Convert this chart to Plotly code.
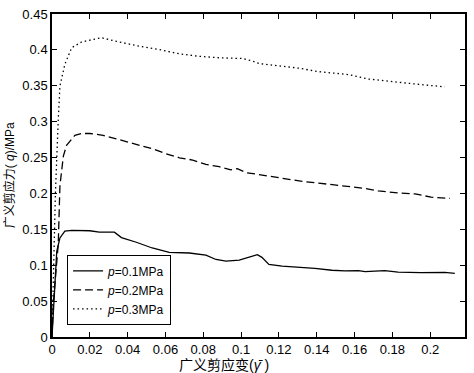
import plotly.graph_objects as go

# p = 0.1 MPa (solid)
x1 = [0, 0.0005, 0.0016, 0.0025, 0.0042, 0.0068, 0.0104, 0.02, 0.025, 0.033, 0.0367, 0.0446,
      0.053, 0.062, 0.0726, 0.0814, 0.0867, 0.092, 0.099, 0.104, 0.1086, 0.111, 0.1147, 0.1217,
      0.132, 0.139, 0.148, 0.155, 0.162, 0.1656, 0.176, 0.183, 0.195, 0.2077, 0.213]
y1 = [0, 0.023, 0.074, 0.119, 0.138, 0.1475, 0.1485, 0.148, 0.146, 0.146, 0.1385, 0.132,
      0.124, 0.118, 0.117, 0.114, 0.108, 0.1056, 0.107, 0.111, 0.1148, 0.111, 0.101, 0.0988,
      0.0974, 0.0956, 0.093, 0.092, 0.0925, 0.091, 0.0925, 0.0905, 0.0896, 0.09, 0.0887]

# p = 0.2 MPa (dashed)
x2 = [0, 0.0007, 0.0033, 0.0042, 0.006, 0.0077, 0.0121, 0.0156, 0.02, 0.027, 0.034, 0.0427,
      0.0533, 0.060, 0.0674, 0.0744, 0.0814, 0.0884, 0.0946, 0.098, 0.1025, 0.1095, 0.1165,
      0.1235, 0.1323, 0.141, 0.15, 0.158, 0.1656, 0.1726, 0.183, 0.192, 0.2005, 0.2104]
y2 = [0, 0.047, 0.129, 0.211, 0.252, 0.267, 0.281, 0.2835, 0.2835, 0.281, 0.276, 0.270,
      0.262, 0.2556, 0.2497, 0.2465, 0.2405, 0.2373, 0.2328, 0.2346, 0.229, 0.2263, 0.2236,
      0.22, 0.2167, 0.2144, 0.2117, 0.21, 0.207, 0.2035, 0.2007, 0.1994, 0.1948, 0.193]

# p = 0.3 MPa (dotted)
x3 = [0, 0.0008, 0.0018, 0.0033, 0.0042, 0.0068, 0.0104, 0.0156, 0.0226, 0.026, 0.034, 0.0463,
      0.0568, 0.0674, 0.078, 0.0884, 0.1007, 0.106, 0.1095, 0.12, 0.1305, 0.141, 0.157, 0.1674,
      0.183, 0.192, 0.2077]
y3 = [0, 0.1, 0.2, 0.302, 0.35, 0.38, 0.403, 0.411, 0.4145, 0.417, 0.412, 0.405,
      0.4005, 0.3944, 0.391, 0.389, 0.388, 0.3845, 0.381, 0.3777, 0.3745, 0.3697, 0.3655, 0.3594,
      0.3544, 0.3525, 0.3485]

names = ["<i>p</i>=0.1MPa", "<i>p</i>=0.2MPa", "<i>p</i>=0.3MPa"]
dashes = ["solid", "8px,4px", "1.5px,3px"]

FONT = "Liberation Sans, Arial, Noto Sans CJK SC, sans-serif"

fig = go.Figure()
for xs, ys, nm, ds in zip([x1, x2, x3], [y1, y2, y3], names, dashes):
    fig.add_trace(go.Scatter(x=xs, y=ys, mode="lines", name=nm,
                             line=dict(color="black", width=1.3, dash=ds)))

axis_common = dict(showgrid=False, zeroline=False, showline=True, linecolor="black",
                   linewidth=1.5, mirror="ticks", ticks="inside", ticklen=5,
                   tickcolor="black", tickwidth=1.2,
                   tickfont=dict(family=FONT, size=13, color="black"))

fig.update_xaxes(range=[0, 0.2184], tick0=0, dtick=0.02, **axis_common)
fig.update_yaxes(range=[0, 0.45], tick0=0, dtick=0.05, **axis_common)

fig.update_layout(
    width=474, height=373,
    margin=dict(l=52, r=7, t=9, b=36),
    paper_bgcolor="white", plot_bgcolor="white",
    font=dict(family=FONT, size=13, color="black"),
    legend=dict(x=0.036, y=0.145, xanchor="left", yanchor="middle",
                bordercolor="black", borderwidth=1.2, bgcolor="white",
                font=dict(family=FONT, size=12, color="black"),
                tracegroupgap=0, itemwidth=30),
    annotations=[
        dict(text="广义剪应变(<i>γ̄</i> )", xref="paper", yref="paper",
             x=(225 - 52) / 415, y=-0.088, xanchor="center", yanchor="middle",
             showarrow=False, font=dict(family=FONT, size=14, color="black")),
        dict(text="广义剪应力( <i>q</i>)/MPa", xref="paper", yref="paper",
             x=-0.102, y=0.5, xanchor="center", yanchor="middle", textangle=-90,
             showarrow=False, font=dict(family=FONT, size=12, color="black")),
    ],
)

fig.write_html("out.html", config={"displayModeBar": False},
               post_script="document.body.style.margin='0';document.body.style.overflow='hidden';")
